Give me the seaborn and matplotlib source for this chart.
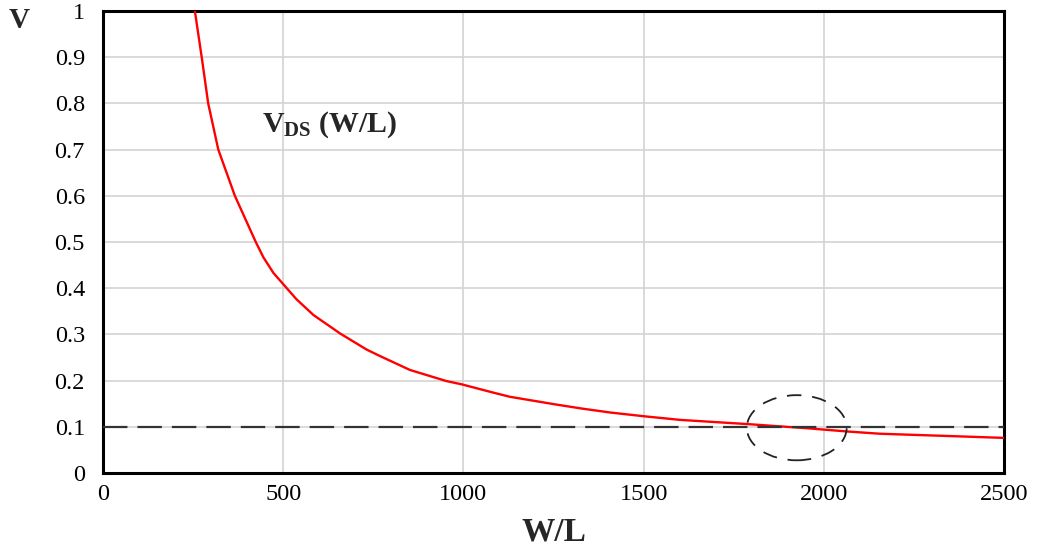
import matplotlib
matplotlib.use("Agg")
import matplotlib.pyplot as plt
import seaborn as sns
import pandas as pd
from matplotlib.patches import Ellipse

# Data
wl = [255, 274, 292, 320, 366, 424, 445, 473, 510, 537, 584, 658, 732, 769, 852, 953,
      995, 1083, 1129, 1259, 1333, 1407, 1499, 1601, 1786, 1952, 2063, 2156, 2387, 2500]
vds = [1.0, 0.9, 0.8, 0.7, 0.6, 0.5, 0.467, 0.433, 0.4, 0.376, 0.342, 0.302, 0.267, 0.253, 0.223, 0.199,
       0.192, 0.174, 0.165, 0.148, 0.139, 0.131, 0.123, 0.115, 0.106, 0.097, 0.09, 0.085, 0.079, 0.076]
threshold = 0.1
x_ticks = [0, 500, 1000, 1500, 2000, 2500]
y_ticks = [0, 0.1, 0.2, 0.3, 0.4, 0.5, 0.6, 0.7, 0.8, 0.9, 1]
y_tick_labels = ["0", "0.1", "0.2", "0.3", "0.4", "0.5", "0.6", "0.7", "0.8", "0.9", "1"]
ellipse_center = (1925, 0.098)
ellipse_size = (277, 0.141)

sns.set_style("white")
plt.rcParams['font.family'] = ['Liberation Serif', 'DejaVu Serif']
plt.rcParams['mathtext.fontset'] = 'custom'
plt.rcParams['mathtext.rm'] = 'Liberation Serif'
plt.rcParams['mathtext.bf'] = 'Liberation Serif:bold'

df = pd.DataFrame({"W/L": wl, "V": vds})

fig = plt.figure(figsize=(10.39, 5.54), dpi=100)
ax = fig.add_axes([0.0991, 0.1462, 0.8672, 0.8339])

ax.grid(True, color="#d3d3d3", linewidth=1.2)
ax.set_axisbelow(True)

sns.lineplot(data=df, x="W/L", y="V", ax=ax, color="#ff0000", linewidth=1.7,
             estimator=None, sort=False, zorder=3)

ax.axhline(threshold, color="#333333", linewidth=1.6, dashes=(11, 4.5), zorder=4)

ell = Ellipse(ellipse_center, ellipse_size[0], ellipse_size[1], fill=False,
              edgecolor="#222222", linewidth=1.3, linestyle=(0, (8, 6)), zorder=5)
ax.add_patch(ell)

ax.set_xlim(0, 2500)
ax.set_ylim(0, 1)
ax.set_xticks(x_ticks)
ax.set_xticklabels([str(t) for t in x_ticks])
ax.set_yticks(y_ticks)
ax.set_yticklabels(y_tick_labels)
ax.tick_params(axis="both", length=0, labelsize=17.5, labelcolor="black")
ax.tick_params(axis="y", pad=13)
ax.tick_params(axis="x", pad=8)

for s in ax.spines.values():
    s.set_visible(True)
    s.set_color("black")
    s.set_linewidth(2.2)

ax.set_xlabel("W/L", fontsize=24, fontweight="bold", labelpad=8)
ax.set_ylabel("")
fig.text(0.008, 0.963, "V", fontsize=21, fontweight="bold", ha="left", va="center")

ax.text(440, 0.753, r"$\mathbf{V_{DS}}$ (W/L)", fontsize=21.5, fontweight="bold",
        ha="left", va="center")

fig.savefig("out.png", dpi=100, facecolor="white")
